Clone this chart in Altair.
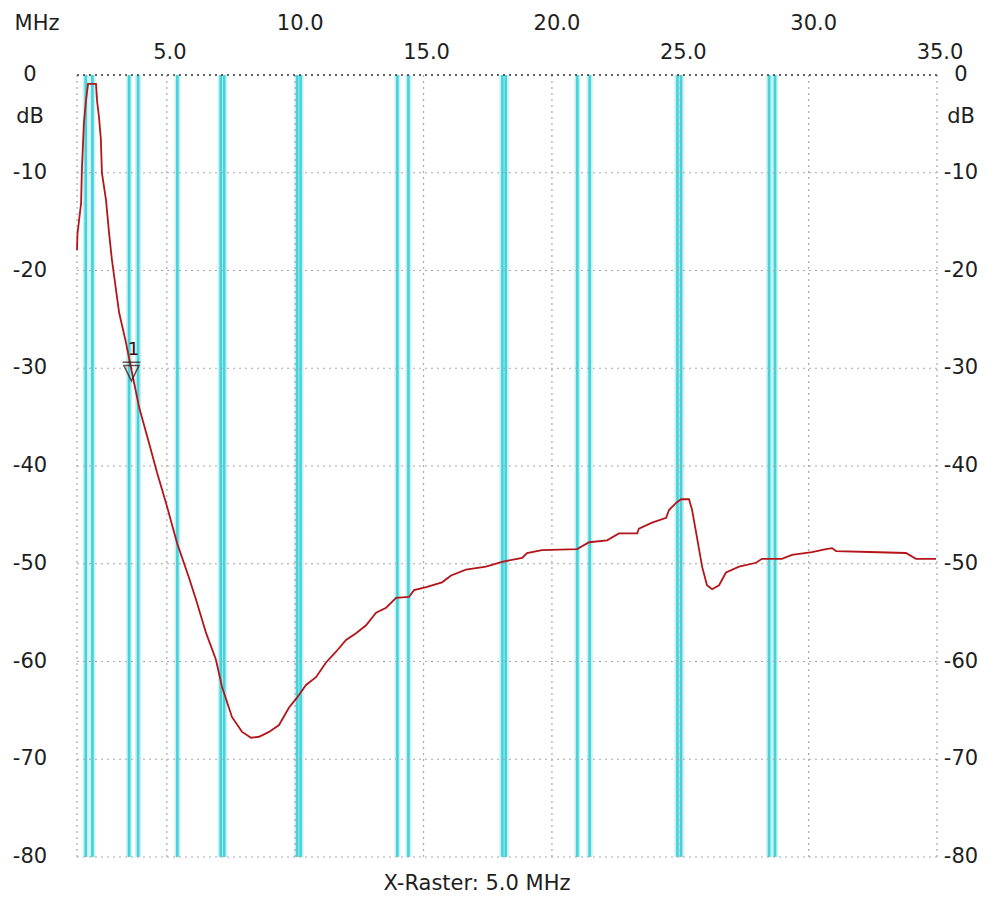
import altair as alt
import pandas as pd

# ---- data ----
freq_mhz = [1.50, 1.52, 1.66, 1.69, 1.77, 1.85, 1.93, 2.24, 2.28, 2.36, 2.43, 2.47, 2.63, 2.75,
            2.86, 3.14, 3.41, 3.60, 3.92, 4.30, 4.62, 4.97, 5.40, 5.86, 6.14, 6.53, 6.91, 7.15,
            7.54, 7.93, 8.28, 8.59, 8.98, 9.37, 9.76, 10.07, 10.42, 10.81, 11.20, 11.59, 11.98,
            12.37, 12.76, 13.15, 13.54, 13.93, 14.43, 14.63, 15.10, 15.72, 16.07, 16.65, 17.43,
            18.06, 18.84, 19.03, 19.61, 20.98, 21.45, 22.15, 22.61, 23.32, 23.39, 23.90, 24.45,
            24.56, 24.87, 25.03, 25.34, 25.46, 25.65, 25.85, 26.04, 26.24, 26.51, 26.78, 27.29,
            27.95, 28.18, 28.96, 29.35, 30.13, 30.68, 30.91, 31.07, 32.35, 33.79, 34.18, 34.96]
level_db = [-17.9, -16.2, -13.1, -9.7, -4.9, -2.6, -0.9, -0.9, -2.6, -4.4, -6.6, -10.0, -12.8, -16.2,
            -18.9, -24.3, -27.4, -29.9, -34.0, -37.6, -40.7, -43.8, -47.9, -51.4, -53.7, -57.1, -59.8, -62.6,
            -65.7, -67.2, -67.8, -67.7, -67.2, -66.5, -64.7, -63.7, -62.4, -61.6, -60.1, -59.0, -57.8,
            -57.1, -56.3, -55.0, -54.5, -53.5, -53.4, -52.7, -52.4, -51.9, -51.2, -50.6, -50.3,
            -49.8, -49.4, -48.9, -48.6, -48.5, -47.8, -47.6, -46.9, -46.9, -46.4, -45.8, -45.3,
            -44.5, -43.7, -43.4, -43.4, -44.5, -47.3, -50.3, -52.2, -52.6, -52.2, -50.9, -50.3,
            -49.9, -49.5, -49.5, -49.1, -48.8, -48.5, -48.4, -48.7, -48.8, -48.9, -49.5, -49.5]

band_lines_mhz = [1.84, 2.10, 3.53, 3.88, 5.41, 7.10, 7.23, 10.08, 10.21, 13.98, 14.41,
                  18.07, 18.20, 20.99, 21.47, 24.89, 25.03, 28.46, 28.69]

x_grid = [1.5, 5, 10, 15, 20, 25, 30, 35]
x_labels_low = [5, 15, 25, 35]
x_labels_high = [10, 20, 30]
y_ticks = [0, -10, -20, -30, -40, -50, -60, -70, -80]

marker_mhz = [3.62]
marker_db = [-30.4]
marker_label = ["1"]

X_MIN, X_MAX = 1.5, 35.0
FONT = "DejaVu Sans"
TXT = "#1e1e1e"

curve = pd.DataFrame({"f": freq_mhz, "db": level_db})
bands = pd.DataFrame({"f": band_lines_mhz})
xg = pd.DataFrame({"f": x_grid})
yg = pd.DataFrame({"db": y_ticks})
yg_inner = pd.DataFrame({"db": [v for v in y_ticks if v != 0]})
xl_low = pd.DataFrame({"f": x_labels_low, "t": [f"{v:.1f}" for v in x_labels_low]})
xl_high = pd.DataFrame({"f": x_labels_high, "t": [f"{v:.1f}" for v in x_labels_high]})
yl = pd.DataFrame({"db": y_ticks, "t": [str(v) for v in y_ticks]})
mk = pd.DataFrame({"f": marker_mhz, "db": marker_db, "t": marker_label})

xs = alt.Scale(domain=[X_MIN, X_MAX], nice=False, zero=False)
ys = alt.Scale(domain=[-80, 0], nice=False, zero=False)
X = lambda: alt.X("f:Q", scale=xs, axis=None)
Y = lambda: alt.Y("db:Q", scale=ys, axis=None)

band_halo = alt.Chart(bands).mark_rule(color="#c6f1f3", strokeWidth=6).encode(x=X())
band_core = alt.Chart(bands).mark_rule(color="#45d3db", strokeWidth=2.6).encode(x=X())

vgrid = alt.Chart(xg).mark_rule(color="#a8a8a8", strokeWidth=1.2, strokeDash=[2, 4]).encode(x=X())
hgrid = alt.Chart(yg_inner).mark_rule(color="#a8a8a8", strokeWidth=1.2, strokeDash=[2, 4]).encode(y=Y())
top_edge = alt.Chart(yg[yg.db == 0]).mark_rule(color="#333333", strokeWidth=1.4, strokeDash=[2, 4]).encode(y=Y())

line = alt.Chart(curve).mark_line(color="#b3151b", strokeWidth=1.8).encode(
    x=X(), y=Y(), order="f:Q")

marker = alt.Chart(mk).mark_point(
    shape="M-1,-1.1H1M-0.85,-0.75H0.85L0,1Z", filled=False, stroke="#3a0a0a", strokeWidth=1.5, size=320
).encode(x=X(), y=Y())
marker_txt = alt.Chart(mk).mark_text(font=FONT, fontSize=18, color="#3a0a0a", dy=-22, dx=2).encode(
    x=X(), y=Y(), text="t:N")

lab_low = alt.Chart(xl_low).mark_text(font=FONT, fontSize=21, color=TXT, baseline="middle", dx=3).encode(
    x=X(), y=alt.value(-22), text="t:N")
lab_high = alt.Chart(xl_high).mark_text(font=FONT, fontSize=21, color=TXT, baseline="middle", dx=5).encode(
    x=X(), y=alt.value(-51), text="t:N")
lab_left = alt.Chart(yl).mark_text(font=FONT, fontSize=21, color=TXT, baseline="middle", align="center").encode(
    x=alt.value(-47), y=Y(), text="t:N")
lab_right = alt.Chart(yl).mark_text(font=FONT, fontSize=21, color=TXT, baseline="middle", align="center").encode(
    x=alt.value(884), y=Y(), text="t:N")

unit_df = pd.DataFrame({"t": ["MHz"]})
mhz_txt = alt.Chart(unit_df).mark_text(font=FONT, fontSize=21, color=TXT, baseline="middle", align="center").encode(
    x=alt.value(-40), y=alt.value(-51), text="t:N")
db_df = pd.DataFrame({"t": ["dB"]})
db_left = alt.Chart(db_df).mark_text(font=FONT, fontSize=21, color=TXT, baseline="middle", align="center").encode(
    x=alt.value(-47), y=alt.value(42), text="t:N")
db_right = alt.Chart(db_df).mark_text(font=FONT, fontSize=21, color=TXT, baseline="middle", align="center").encode(
    x=alt.value(884), y=alt.value(42), text="t:N")
raster_df = pd.DataFrame({"t": ["X-Raster: 5.0 MHz"]})
raster_txt = alt.Chart(raster_df).mark_text(font=FONT, fontSize=21, color=TXT, baseline="middle", align="center").encode(
    x=alt.value(400), y=alt.value(809), text="t:N")

chart = alt.layer(
    band_halo, band_core, vgrid, hgrid, top_edge, line, marker, marker_txt,
    lab_low, lab_high, lab_left, lab_right, mhz_txt, db_left, db_right, raster_txt
).properties(
    width=860, height=782,
    autosize=alt.AutoSizeParams(type="none"),
    padding={"left": 69, "top": 67, "right": 42, "bottom": 38},
    background="white",
).configure_view(stroke=None)

chart.save("out.html", embed_options={"renderer": "svg", "actions": False})
